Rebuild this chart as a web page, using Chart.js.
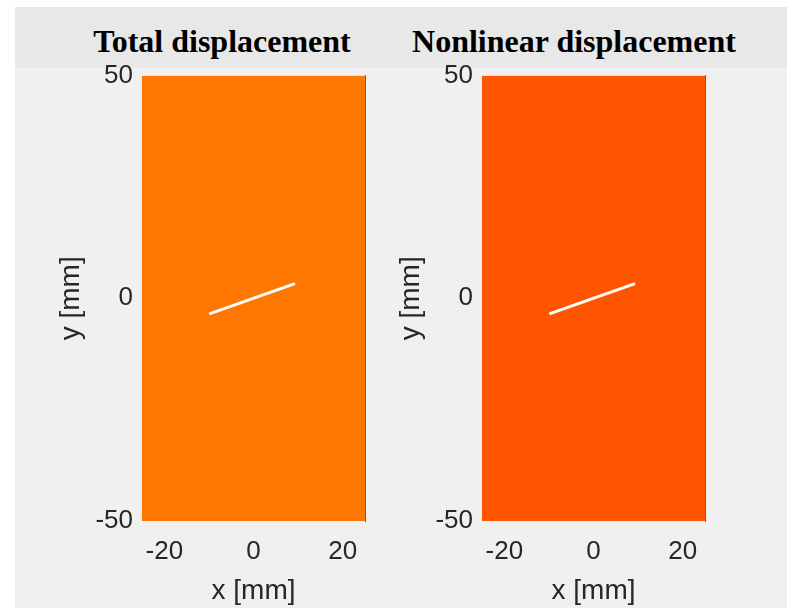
<!DOCTYPE html>
<html>
<head>
<meta charset="utf-8">
<script src="https://cdn.jsdelivr.net/npm/chart.js@4.4.1/dist/chart.umd.min.js"></script>
<style>
  html, body { margin: 0; padding: 0; background: #ffffff; }
  #fig { position: absolute; left: 15px; top: 7px; width: 772px; height: 601px; background: #f0f0f0; overflow: hidden; }
  #head { position: absolute; left: 0; top: 0; width: 772px; height: 61px; background: #e8e8e8; }
  .ttl { position: absolute; width: 420px; text-align: center; font-family: "Liberation Serif", "Times New Roman", serif;
         font-weight: bold; font-size: 32px; line-height: 32px; color: #000; top: 18px; white-space: nowrap; }
  canvas { position: absolute; top: 44px; }
</style>
</head>
<body>
<div id="fig">
  <div id="head"></div>
  <div class="ttl" id="t0" style="left:-3px">Total displacement</div>
  <div class="ttl" id="t1" style="left:349px">Nonlinear displacement</div>
  <canvas id="c0" width="390" height="557" style="left:0px"></canvas>
  <canvas id="c1" width="390" height="557" style="left:340px"></canvas>
</div>
<script>
// panel data
const panelTitles = ['Total displacement', 'Nonlinear displacement'];
const xRange = [-25, 25];
const yRange = [-50, 50];
const xTicks = [-20, 0, 20];
const yTicks = [-50, 0, 50];
// crack segment (same in both panels)
const crackX = [-9.9, 9.3];
const crackY = [-3.5, 3.3];
const fieldColors = ['#ff7700', '#ff5500'];

Chart.defaults.font.family = '"Liberation Sans", Arial, sans-serif';
Chart.defaults.color = '#262626';

function makePanel(id, idx) {
  var ctx = document.getElementById(id).getContext('2d');
  var field = xRange.map(function (x) { return { x: x, y: yRange[1] }; });
  var crack = crackX.map(function (x, i) { return { x: x, y: crackY[i] }; });
  new Chart(ctx, {
    type: 'scatter',
    data: {
      datasets: [
        {
          label: panelTitles[idx],
          data: field,
          showLine: true,
          fill: 'start',
          backgroundColor: fieldColors[idx],
          borderColor: fieldColors[idx],
          borderWidth: 0,
          pointRadius: 0
        },
        {
          label: 'crack',
          data: crack,
          showLine: true,
          fill: false,
          borderColor: '#ffffff',
          borderWidth: 3,
          pointRadius: 0,
          order: -1
        }
      ]
    },
    options: {
      responsive: false,
      animation: false,
      devicePixelRatio: 1,
      layout: { padding: { left: 39, right: 40, top: 13, bottom: 0 } },
      plugins: { legend: { display: false }, tooltip: { enabled: false } },
      scales: {
        x: {
          type: 'linear',
          min: xRange[0], max: xRange[1],
          afterBuildTicks: function (s) { s.ticks = xTicks.map(function (v) { return { value: v }; }); },
          afterFit: function (s) { s.height = 87; },
          grid: { display: false, drawTicks: false },
          border: { display: false },
          ticks: { font: { size: 26 }, padding: 15, maxRotation: 0, autoSkip: false },
          title: { display: true, text: 'x [mm]', font: { size: 28 }, padding: 0, color: '#262626' }
        },
        y: {
          type: 'linear',
          min: yRange[0], max: yRange[1],
          afterBuildTicks: function (s) { s.ticks = yTicks.map(function (v) { return { value: v }; }); },
          afterFit: function (s) { s.width = 88; },
          grid: { display: false, drawTicks: false },
          border: { display: false },
          ticks: { font: { size: 26 }, padding: 9, autoSkip: false },
          title: { display: true, text: 'y [mm]', font: { size: 28 }, padding: 0, color: '#262626' }
        },
        yr: {
          type: 'linear',
          position: 'right',
          min: yRange[0], max: yRange[1],
          afterFit: function (s) { s.width = 0; },
          grid: { display: false, drawTicks: false },
          border: { display: true, color: '#7a5a3a', width: 1 },
          ticks: { display: false }
        }
      }
    }
  });
}

makePanel('c0', 0);
makePanel('c1', 1);
</script>
</body>
</html>
